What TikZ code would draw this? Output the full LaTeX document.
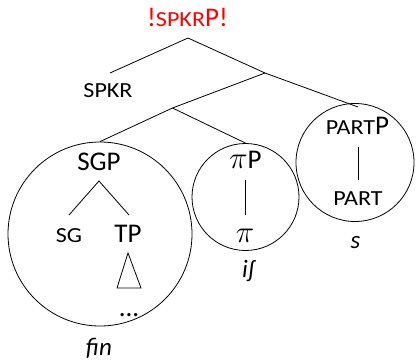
\documentclass[tikz,border=0pt]{standalone}
\usepackage{fontspec}
\usepackage{graphicx}
\setmainfont{Carlito}
\newcommand{\fsc}[1]{\scalebox{1.12}[1]{\fontsize{21.5}{24}\selectfont #1}}
\newcommand{\bigpi}{\scalebox{1.25}{$\pi$}}
\begin{document}
\begin{tikzpicture}[x=1pt,y=-1pt,
  lbl/.style={anchor=base,inner sep=0pt,font=\fontsize{27}{30}\selectfont},
  itl/.style={anchor=base,inner sep=0pt,font=\fontsize{25}{28}\selectfont\itshape},
  ring/.style={draw,circle,inner sep=0pt,line width=0.8pt},
  edge/.style={draw,line width=0.8pt}]
\useasboundingbox (0,0) rectangle (418,361);
% title
\node[lbl,text=red] (title) at (187.5,27) {!\fsc{SPKR}P!};
\node[lbl] (spkr) at (108,98) {\fsc{SPKR}};
% tree points
\coordinate (apex) at (188,38);
\coordinate (spkrtop) at (110,73);
\coordinate (br1) at (265,73);
\coordinate (br2) at (172.5,108);
\coordinate (parttop) at (358,107);
% circles
\node[ring,minimum size=184pt] (sgcirc) at (100,234) {};
\node[ring,minimum size=107pt] (picirc) at (245.5,197) {};
\node[ring,minimum size=118pt] (partcirc) at (355,162.5) {};
\draw[edge] (spkrtop) -- (apex) -- (br1) -- (parttop);
\draw[edge] (br1) -- (br2) -- (sgcirc.north);
\draw[edge] (br2) -- (picirc.north);
% SGP subtree
\node[lbl] (sgp) at (99,170) {SGP};
\node[lbl] (sg) at (69,242) {\fsc{SG}};
\node[lbl] (tp) at (128,242) {TP};
\coordinate (sgpbot) at (99,181);
\coordinate (sgtop) at (69,215);
\coordinate (tptop) at (129,215);
\draw[edge] (sgtop) -- (sgpbot) -- (tptop);
\coordinate (tri1) at (128,253);
\coordinate (tri2) at (117,288);
\coordinate (tri3) at (141,288);
\draw[edge] (tri1) -- (tri2) -- (tri3) -- cycle;
\node[lbl] (dots) at (129,316) {...};
\node[itl] (fin) at (99,355) {fin};
% pi subtree
\node[lbl] (pip) at (245.5,168) {\bigpi P};
\node[lbl] (pi) at (245,242) {\bigpi};
\coordinate (pitop) at (245.5,180);
\coordinate (pibot) at (245.5,215);
\draw[edge] (pitop) -- (pibot);
\node[itl] (ish) at (248,277) {iʃ};
% part subtree
\node[lbl] (partp) at (357.5,135) {\fsc{PART}P};
\node[lbl] (part) at (358,205) {\fsc{PART}};
\coordinate (parttopl) at (358,147);
\coordinate (partbot) at (358,180);
\draw[edge] (parttopl) -- (partbot);
\node[itl] (s) at (355.5,248) {s};
\end{tikzpicture}
\end{document}
